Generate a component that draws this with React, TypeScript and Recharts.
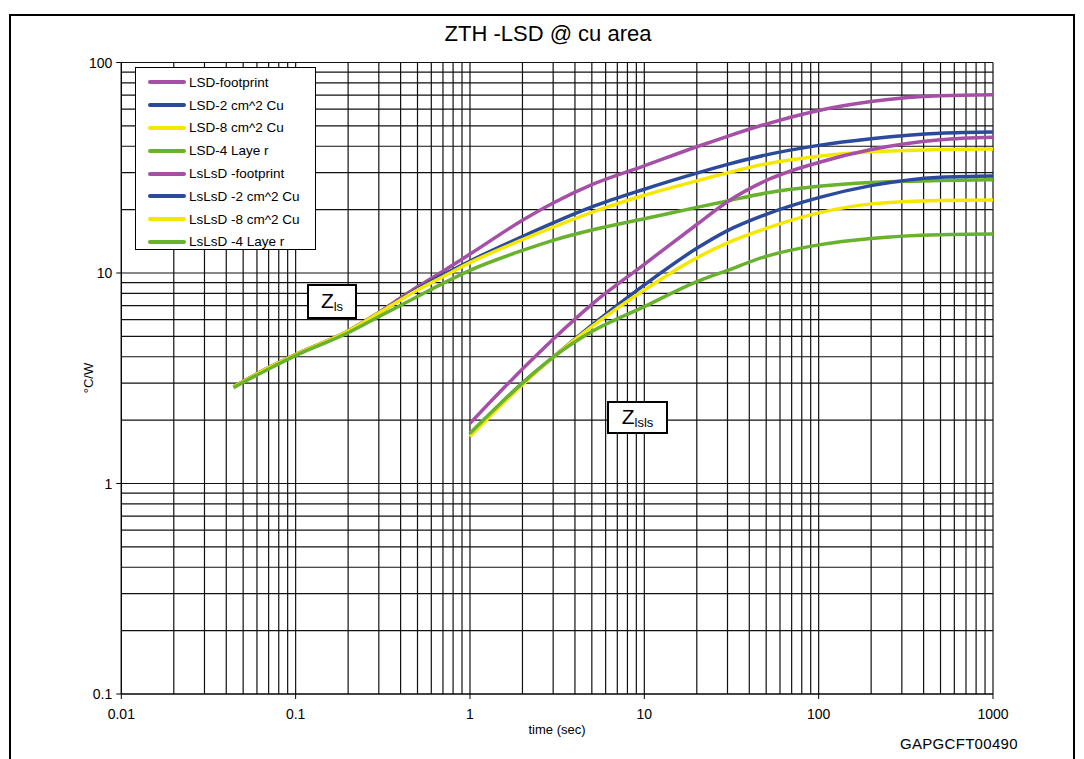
import { CartesianGrid, Line, LineChart, XAxis, YAxis } from "recharts";

// time points (sec)
const lsdTime = [0.044, 0.07, 0.1, 0.2, 0.3, 0.5, 0.7, 1, 2, 3, 5, 10, 20, 30, 50, 100, 200, 500, 1000];
const lslsdTime = [1, 2, 3, 5, 10, 20, 30, 50, 100, 200, 500, 1000];

// Zth (°C/W)
const lsdFootprint = [2.88, 3.55, 4.1, 5.3, 6.5, 8.6, 10.2, 12.3, 17.8, 21.5, 26.3, 32.3, 39.8, 44.6, 51.0, 59.2, 65.3, 69.5, 70.2];
const lsd2cm = [2.88, 3.55, 4.1, 5.3, 6.45, 8.4, 9.8, 11.4, 14.9, 17.3, 20.6, 25.0, 29.8, 32.8, 36.4, 40.4, 43.4, 46.1, 46.7];
const lsd8cm = [2.88, 3.55, 4.1, 5.3, 6.45, 8.3, 9.6, 11.2, 14.4, 16.5, 19.4, 23.4, 27.4, 29.9, 33.0, 35.9, 37.7, 38.6, 38.8];
const lsd4layer = [2.85, 3.5, 4.05, 5.2, 6.2, 7.73, 8.93, 10.3, 12.8, 14.3, 16.0, 18.1, 20.5, 22.0, 24.0, 25.8, 26.9, 27.5, 27.7];

const lslsdFootprint = [1.93, 3.5, 4.85, 7.1, 11.0, 17.0, 21.8, 27.5, 33.5, 38.6, 43.0, 44.2];
const lslsd2cm = [1.72, 3.0, 3.98, 5.65, 8.78, 13.1, 15.9, 19.0, 22.8, 26.0, 28.5, 28.9];
const lslsd8cm = [1.67, 2.95, 3.98, 5.56, 8.3, 11.8, 13.9, 16.3, 19.3, 21.3, 22.1, 22.2];
const lslsd4layer = [1.73, 3.0, 3.98, 5.27, 6.92, 9.1, 10.3, 12.0, 13.6, 14.6, 15.2, 15.3];

const xMajorTicks = [0.01, 0.1, 1, 10, 100, 1000];
const yMajorTicks = [0.1, 1, 10, 100];
const minorSteps = [1, 2, 3, 4, 5, 6, 7, 8, 9];

const PURPLE = "#a64fa6";
const BLUE = "#2b4a9b";
const YELLOW = "#f5e800";
const GREEN = "#68b22e";
const FONT = "'Liberation Sans', Arial, sans-serif";

const series = [
  { key: "lsdFp", label: "LSD-footprint", color: PURPLE, t: lsdTime, v: lsdFootprint },
  { key: "lsd2", label: "LSD-2 cm^2 Cu", color: BLUE, t: lsdTime, v: lsd2cm },
  { key: "lsd8", label: "LSD-8 cm^2 Cu", color: YELLOW, t: lsdTime, v: lsd8cm },
  { key: "lsd4", label: "LSD-4 Laye r", color: GREEN, t: lsdTime, v: lsd4layer },
  { key: "lslsdFp", label: "LsLsD -footprint", color: PURPLE, t: lslsdTime, v: lslsdFootprint },
  { key: "lslsd2", label: "LsLsD -2 cm^2 Cu", color: BLUE, t: lslsdTime, v: lslsd2cm },
  { key: "lslsd8", label: "LsLsD -8 cm^2 Cu", color: YELLOW, t: lslsdTime, v: lslsd8cm },
  { key: "lslsd4", label: "LsLsD -4 Laye r", color: GREEN, t: lslsdTime, v: lslsd4layer },
];

const withMinors = (majors: number[]) =>
  majors.flatMap((m, i) =>
    i === majors.length - 1 ? [m] : minorSteps.map((s) => Number((m * s).toPrecision(3)))
  );

const isMajor = (v: number) => Math.abs(Math.log10(v) - Math.round(Math.log10(v))) < 1e-6;

function XTick({ x, y, payload }: any) {
  if (!isMajor(payload.value)) return <g />;
  return (
    <g>
      <line x1={x} x2={x} y1={y} y2={y + 5} stroke="#000" />
      <text x={x} y={y + 25} textAnchor="middle" fontSize={14} fontFamily={FONT} fill="#000">
        {String(payload.value)}
      </text>
    </g>
  );
}

function YTick({ x, y, payload }: any) {
  if (!isMajor(payload.value)) return <g />;
  return (
    <g>
      <line x1={x - 5} x2={x} y1={y} y2={y} stroke="#000" />
      <text x={x - 9} y={y + 5} textAnchor="end" fontSize={14} fontFamily={FONT} fill="#000">
        {String(payload.value)}
      </text>
    </g>
  );
}

function ZLabel({ left, top, width, height, sub }: { left: number; top: number; width: number; height: number; sub: string }) {
  return (
    <div
      style={{
        position: "absolute",
        left,
        top,
        width,
        height,
        boxSizing: "border-box",
        border: "2px solid #000",
        background: "#fff",
        display: "flex",
        alignItems: "center",
        justifyContent: "center",
        fontFamily: FONT,
        fontSize: 21,
      }}
    >
      <span>
        Z<span style={{ fontSize: 13, verticalAlign: "-3px" }}>{sub}</span>
      </span>
    </div>
  );
}

export default function App() {
  return (
    <div
      style={{
        position: "absolute",
        left: 0,
        top: 0,
        width: 1084,
        height: 759,
        overflow: "hidden",
        background: "#fff",
        fontFamily: FONT,
      }}
    >
      <div
        style={{
          position: "absolute",
          left: 9,
          top: 14,
          width: 1066,
          height: 800,
          boxSizing: "border-box",
          border: "2px solid #000",
        }}
      />
      <div style={{ position: "absolute", left: 0, width: 1084, top: 21, textAlign: "center", fontSize: 22, paddingLeft: 12, boxSizing: "border-box" }}>
        ZTH -LSD @ cu area
      </div>

      <div style={{ position: "absolute", left: 0, top: 0 }}>
        <LineChart width={1084} height={759} margin={{ top: 62.5, right: 91, left: 61.3, bottom: 30 }}>
          <CartesianGrid stroke="#111" strokeWidth={1.2} />
          <XAxis
            dataKey="t"
            type="number"
            scale="log"
            domain={[0.01, 1000]}
            ticks={withMinors(xMajorTicks)}
            interval={0}
            allowDataOverflow
            tick={(p: any) => <XTick {...p} />}
            tickLine={false}
            tickSize={0}
            tickMargin={0}
            axisLine={{ stroke: "#000" }}
            height={35}
          />
          <YAxis
            type="number"
            scale="log"
            domain={[0.1, 100]}
            ticks={withMinors(yMajorTicks)}
            interval={0}
            allowDataOverflow
            tick={(p: any) => <YTick {...p} />}
            tickLine={false}
            tickSize={0}
            tickMargin={0}
            axisLine={{ stroke: "#000" }}
            width={60}
          />
          {series.map((s) => (
            <Line
              key={s.key}
              data={s.t.map((t, i) => ({ t, v: s.v[i] }))}
              dataKey="v"
              type="monotone"
              stroke={s.color}
              strokeWidth={3.5}
              dot={false}
              activeDot={false}
              isAnimationActive={false}
            />
          ))}
        </LineChart>
      </div>

      {/* legend box */}
      <div
        style={{
          position: "absolute",
          left: 135,
          top: 67,
          width: 181,
          height: 183,
          boxSizing: "border-box",
          border: "1px solid #000",
          background: "#fff",
          paddingTop: 3,
        }}
      >
        {series.map((s) => (
          <div key={s.key} style={{ display: "flex", alignItems: "center", height: 22.8, fontSize: 13.5 }}>
            <span style={{ display: "inline-block", marginLeft: 12, width: 38, height: 4, background: s.color, borderRadius: 2 }} />
            <span style={{ marginLeft: 3, whiteSpace: "nowrap" }}>{s.label}</span>
          </div>
        ))}
      </div>

      <ZLabel left={307} top={284} width={50} height={35} sub="ls" />
      <ZLabel left={607} top={401} width={61} height={33} sub="lsls" />

      <div
        style={{
          position: "absolute",
          left: 88,
          top: 378,
          transform: "translate(-50%, -50%) rotate(-90deg)",
          fontSize: 13,
          whiteSpace: "nowrap",
        }}
      >
        °C/W
      </div>
      <div style={{ position: "absolute", left: 557, top: 729, transform: "translate(-50%, -50%)", fontSize: 13 }}>
        time (sec)
      </div>
      <div style={{ position: "absolute", left: 900, top: 735, fontSize: 15, letterSpacing: 0.3 }}>GAPGCFT00490</div>
    </div>
  );
}
